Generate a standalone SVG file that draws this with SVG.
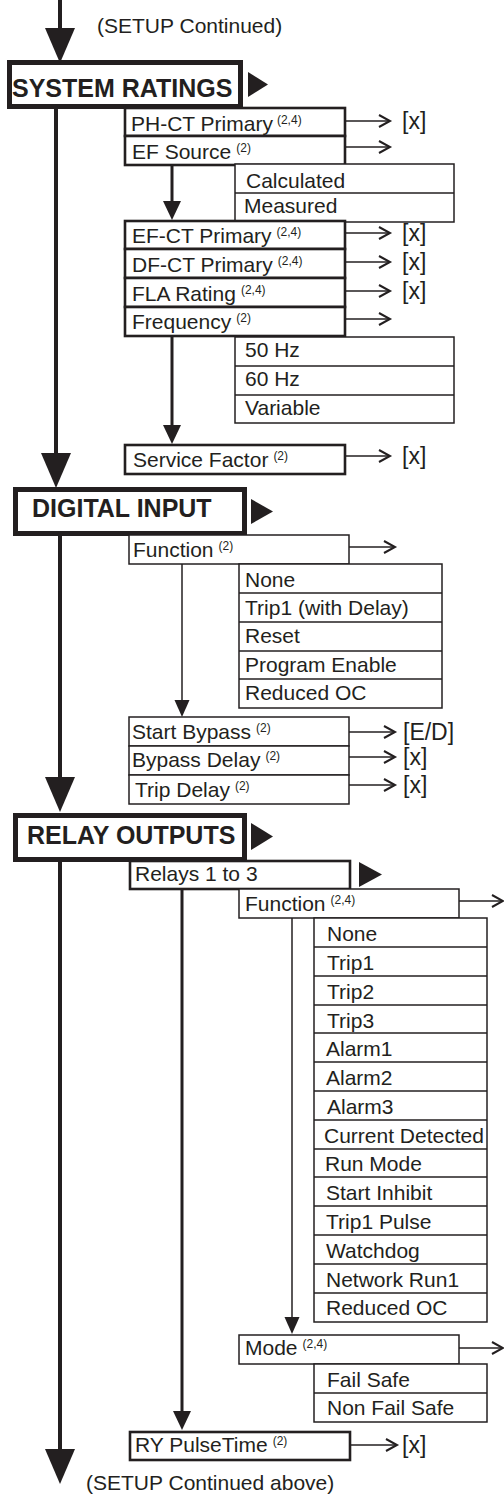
<svg xmlns="http://www.w3.org/2000/svg" width="504" height="1497" viewBox="0 0 504 1497">
<style>
  text { font-family: "Liberation Sans", Arial, Helvetica, sans-serif; fill: #231f20; }
  .t { font-size: 21px; }
  .v { font-size: 23px; }
  .h { font-size: 25px; font-weight: bold; }
  .sup { font-size: 12px; }
  .hdr { fill: #ffffff; stroke: #231f20; stroke-width: 5; }
  .bk { fill: #ffffff; stroke: #231f20; stroke-width: 2.6; }
  .bn { fill: #ffffff; stroke: #231f20; stroke-width: 1.5; }
  .dv { stroke: #231f20; stroke-width: 1.5; fill: none; }
  .tri { fill: #231f20; }
  .main { stroke: #231f20; stroke-width: 4; fill: none; }
  .thick { stroke: #231f20; stroke-width: 3; fill: none; }
  .thin { stroke: #231f20; stroke-width: 1.5; fill: none; }
  .side { stroke: #231f20; stroke-width: 1.6; fill: none; marker-end: url(#chev); }
</style>
<defs>
  <marker id="chev" markerUnits="userSpaceOnUse" markerWidth="14" markerHeight="14" refX="0" refY="0" orient="auto" overflow="visible">
    <path d="M-11,-6 L0,0 L-11,6" fill="none" stroke="#231f20" stroke-width="2"/>
  </marker>
  <marker id="big" markerUnits="userSpaceOnUse" markerWidth="40" markerHeight="40" refX="0" refY="0" orient="auto" overflow="visible">
    <path d="M0,-15 L35,0 L0,15 Z" fill="#231f20"/>
  </marker>
  <marker id="mid" markerUnits="userSpaceOnUse" markerWidth="24" markerHeight="24" refX="0" refY="0" orient="auto" overflow="visible">
    <path d="M0,-9 L19,0 L0,9 Z" fill="#231f20"/>
  </marker>
  <marker id="small" markerUnits="userSpaceOnUse" markerWidth="20" markerHeight="20" refX="0" refY="0" orient="auto" overflow="visible">
    <path d="M0,-7.5 L17,0 L0,7.5 Z" fill="#231f20"/>
  </marker>
</defs>

<!-- ===== Nodes ===== -->
<g id="label-top"><text class="t" x="97" y="33">(SETUP Continued)</text></g>

<g id="n-system-ratings">
  <rect class="hdr" x="9.5" y="62.5" width="231" height="44"/>
  <text class="h" x="12" y="97">SYSTEM RATINGS</text>
  <polygon class="tri" points="248,72 268,84.5 248,97"/>
</g>

<g id="n-phct">
  <rect class="bk" x="125" y="108" width="220" height="28"/>
  <text class="t" x="131" y="131">PH-CT Primary<tspan class="sup" dx="4" dy="-7">(2,4)</tspan></text>
</g>
<g id="n-efsource">
  <rect class="bk" x="125" y="136" width="220" height="29"/>
  <text class="t" x="132" y="159">EF Source<tspan class="sup" dx="5" dy="-7">(2)</tspan></text>
</g>
<g id="n-ef-options">
  <rect class="bn" x="235" y="164" width="219" height="58"/>
  <line class="dv" x1="235" y1="193" x2="454" y2="193"/>
  <text class="t" x="246" y="188">Calculated</text>
  <text class="t" x="244" y="213">Measured</text>
</g>
<g id="n-efct">
  <rect class="bk" x="125" y="221" width="220" height="28"/>
  <text class="t" x="132" y="243">EF-CT Primary<tspan class="sup" dx="5" dy="-7">(2,4)</tspan></text>
</g>
<g id="n-dfct">
  <rect class="bk" x="125" y="249" width="220" height="29"/>
  <text class="t" x="132" y="272">DF-CT Primary<tspan class="sup" dx="5" dy="-7">(2,4)</tspan></text>
</g>
<g id="n-fla">
  <rect class="bk" x="125" y="278" width="220" height="29"/>
  <text class="t" x="132" y="301">FLA Rating<tspan class="sup" dx="5" dy="-7">(2,4)</tspan></text>
</g>
<g id="n-frequency">
  <rect class="bk" x="125" y="307" width="220" height="29"/>
  <text class="t" x="132" y="329">Frequency<tspan class="sup" dx="5" dy="-7">(2)</tspan></text>
</g>
<g id="n-freq-options">
  <rect class="bn" x="235" y="337" width="219" height="86"/>
  <line class="dv" x1="235" y1="366" x2="454" y2="366"/>
  <line class="dv" x1="235" y1="395" x2="454" y2="395"/>
  <text class="t" x="245" y="357">50 Hz</text>
  <text class="t" x="245" y="386">60 Hz</text>
  <text class="t" x="245" y="415">Variable</text>
</g>
<g id="n-service-factor">
  <rect class="bk" x="125" y="445" width="220" height="29"/>
  <text class="t" x="133" y="467">Service Factor<tspan class="sup" dx="5" dy="-7">(2)</tspan></text>
</g>

<g id="n-digital-input">
  <rect class="hdr" x="15.5" y="489.5" width="229" height="44"/>
  <text class="h" x="32" y="517">DIGITAL INPUT</text>
  <polygon class="tri" points="251,499 273,511.5 251,524"/>
</g>
<g id="n-di-function">
  <rect class="bn" x="129" y="535" width="220" height="29"/>
  <text class="t" x="133" y="557">Function<tspan class="sup" dx="5" dy="-7">(2)</tspan></text>
</g>
<g id="n-di-options">
  <rect class="bn" x="239" y="564" width="203" height="144"/>
  <line class="dv" x1="239" y1="593" x2="442" y2="593"/>
  <line class="dv" x1="239" y1="622" x2="442" y2="622"/>
  <line class="dv" x1="239" y1="651" x2="442" y2="651"/>
  <line class="dv" x1="239" y1="679" x2="442" y2="679"/>
  <text class="t" x="245" y="587">None</text>
  <text class="t" x="245" y="615">Trip1 (with Delay)</text>
  <text class="t" x="245" y="643">Reset</text>
  <text class="t" x="245" y="672">Program Enable</text>
  <text class="t" x="245" y="700">Reduced OC</text>
</g>
<g id="n-start-bypass">
  <rect class="bn" x="129" y="717" width="220" height="29"/>
  <text class="t" x="132" y="739">Start Bypass<tspan class="sup" dx="5" dy="-7">(2)</tspan></text>
</g>
<g id="n-bypass-delay">
  <rect class="bn" x="129" y="746" width="220" height="29"/>
  <text class="t" x="132" y="767">Bypass Delay<tspan class="sup" dx="5" dy="-7">(2)</tspan></text>
</g>
<g id="n-trip-delay">
  <rect class="bn" x="129" y="775" width="220" height="29"/>
  <text class="t" x="135" y="797">Trip Delay<tspan class="sup" dx="5" dy="-7">(2)</tspan></text>
</g>

<g id="n-relay-outputs">
  <rect class="hdr" x="15.5" y="815.5" width="229" height="44"/>
  <text class="h" x="27" y="844">RELAY OUTPUTS</text>
  <polygon class="tri" points="251,823 273,836.5 251,850"/>
</g>
<g id="n-relays">
  <rect class="bk" x="130" y="861" width="220" height="28"/>
  <text class="t" x="135" y="881">Relays 1 to 3</text>
  <polygon class="tri" points="359,862 382,874.5 359,887"/>
</g>
<g id="n-ro-function">
  <rect class="bn" x="239" y="889" width="220" height="29"/>
  <text class="t" x="245" y="911">Function<tspan class="sup" dx="5" dy="-7">(2,4)</tspan></text>
</g>
<g id="n-ro-options">
  <rect class="bn" x="314" y="918" width="173" height="404"/>
  <line class="dv" x1="314" y1="947" x2="487" y2="947"/>
  <line class="dv" x1="314" y1="976" x2="487" y2="976"/>
  <line class="dv" x1="314" y1="1005" x2="487" y2="1005"/>
  <line class="dv" x1="314" y1="1033" x2="487" y2="1033"/>
  <line class="dv" x1="314" y1="1062" x2="487" y2="1062"/>
  <line class="dv" x1="314" y1="1091" x2="487" y2="1091"/>
  <line class="dv" x1="314" y1="1120" x2="487" y2="1120"/>
  <line class="dv" x1="314" y1="1149" x2="487" y2="1149"/>
  <line class="dv" x1="314" y1="1177" x2="487" y2="1177"/>
  <line class="dv" x1="314" y1="1206" x2="487" y2="1206"/>
  <line class="dv" x1="314" y1="1235" x2="487" y2="1235"/>
  <line class="dv" x1="314" y1="1264" x2="487" y2="1264"/>
  <line class="dv" x1="314" y1="1293" x2="487" y2="1293"/>
  <text class="t" x="327" y="941">None</text>
  <text class="t" x="327" y="970">Trip1</text>
  <text class="t" x="327" y="999">Trip2</text>
  <text class="t" x="327" y="1028">Trip3</text>
  <text class="t" x="326" y="1056">Alarm1</text>
  <text class="t" x="326" y="1085">Alarm2</text>
  <text class="t" x="327" y="1114">Alarm3</text>
  <text class="t" x="324" y="1143">Current Detected</text>
  <text class="t" x="325" y="1171">Run Mode</text>
  <text class="t" x="326" y="1200">Start Inhibit</text>
  <text class="t" x="326" y="1229">Trip1 Pulse</text>
  <text class="t" x="326" y="1258">Watchdog</text>
  <text class="t" x="326" y="1287">Network Run1</text>
  <text class="t" x="326" y="1315">Reduced OC</text>
</g>
<g id="n-mode">
  <rect class="bn" x="239" y="1335" width="220" height="29"/>
  <text class="t" x="245" y="1355">Mode<tspan class="sup" dx="5" dy="-7">(2,4)</tspan></text>
</g>
<g id="n-mode-options">
  <rect class="bn" x="314" y="1364" width="173" height="58"/>
  <line class="dv" x1="314" y1="1393" x2="487" y2="1393"/>
  <text class="t" x="327" y="1387">Fail Safe</text>
  <text class="t" x="327" y="1415">Non Fail Safe</text>
</g>
<g id="n-ry-pulse">
  <rect class="bk" x="130" y="1432" width="220" height="28"/>
  <text class="t" x="135" y="1452">RY PulseTime<tspan class="sup" dx="5" dy="-7">(2)</tspan></text>
</g>
<g id="label-bottom"><text class="t" x="86" y="1490">(SETUP Continued above)</text></g>

<!-- ===== Connectors ===== -->
<g id="connectors">
  <!-- main spine -->
  <line class="main" x1="60" y1="0" x2="60" y2="28" marker-end="url(#big)"/>
  <line class="main" x1="56" y1="109" x2="56" y2="453" marker-end="url(#big)"/>
  <line class="main" x1="60" y1="536" x2="60" y2="777" marker-end="url(#big)"/>
  <line class="main" x1="60" y1="862" x2="60" y2="1449" marker-end="url(#big)"/>

  <!-- system ratings internal -->
  <line class="thick" x1="172" y1="165" x2="172" y2="201" marker-end="url(#mid)"/>
  <line class="thick" x1="172" y1="336" x2="172" y2="425" marker-end="url(#mid)"/>
  <line class="side" x1="345" y1="121" x2="390" y2="121"/>
  <line class="side" x1="345" y1="147" x2="390" y2="147"/>
  <line class="side" x1="345" y1="233" x2="390" y2="233"/>
  <line class="side" x1="345" y1="262" x2="390" y2="262"/>
  <line class="side" x1="345" y1="291" x2="390" y2="291"/>
  <line class="side" x1="345" y1="319" x2="390" y2="319"/>
  <line class="side" x1="345" y1="456" x2="390" y2="456"/>

  <!-- digital input internal -->
  <line class="thin" x1="182" y1="564" x2="182" y2="700" marker-end="url(#small)"/>
  <line class="side" x1="349" y1="547" x2="395" y2="547"/>
  <line class="side" x1="349" y1="732" x2="395" y2="732"/>
  <line class="side" x1="349" y1="757" x2="395" y2="757"/>
  <line class="side" x1="349" y1="785" x2="395" y2="785"/>

  <!-- relay outputs internal -->
  <line class="thick" x1="182" y1="889" x2="182" y2="1411" marker-end="url(#mid)"/>
  <line class="thin" x1="292" y1="918" x2="292" y2="1317" marker-end="url(#small)"/>
  <line class="side" x1="459" y1="901" x2="503" y2="901"/>
  <line class="side" x1="459" y1="1348" x2="503" y2="1348"/>
  <line class="side" x1="350" y1="1445" x2="397" y2="1445"/>

  <!-- value labels -->
  <text class="v" x="402" y="129">[x]</text>
  <text class="v" x="402" y="241">[x]</text>
  <text class="v" x="402" y="270">[x]</text>
  <text class="v" x="402" y="299">[x]</text>
  <text class="v" x="402" y="464">[x]</text>
  <text class="v" x="403" y="740">[E/D]</text>
  <text class="v" x="403" y="765">[x]</text>
  <text class="v" x="403" y="793">[x]</text>
  <text class="v" x="402" y="1453">[x]</text>
</g>
</svg>
